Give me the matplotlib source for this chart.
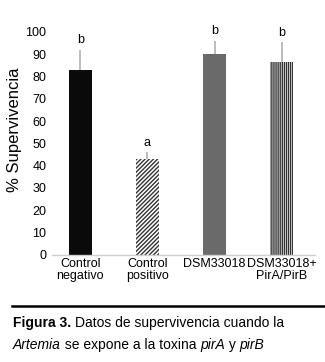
import numpy as np
import matplotlib.pyplot as plt
from matplotlib.lines import Line2D

categories = ["Control\nnegativo", "Control\npositivo", "DSM33018", "DSM33018+\nPirA/PirB"]
survival = [83, 43, 90, 86.5]
err_up = [9, 3, 6, 9]
letters = ["b", "a", "b", "b"]

plt.rcParams["font.family"] = ["Liberation Sans", "DejaVu Sans"]
plt.rcParams["hatch.linewidth"] = 1.0

fig = plt.figure(figsize=(3.25, 3.62), dpi=100)
ax = fig.add_axes([0.16, 0.296, 0.81, 0.616])

x = np.arange(len(categories))
faces = ["#0a0a0a", "white", "#6a6a6a", "white"]
hatches = [None, "////////", None, "||||||||"]
for i in range(len(x)):
    ax.bar(x[i], survival[i], width=0.34, color=faces[i],
           edgecolor="#333333" if hatches[i] else faces[i],
           hatch=hatches[i], linewidth=0)
    ax.errorbar(x[i], survival[i], yerr=[[0], [err_up[i]]], fmt="none",
                ecolor="#b0b0b0", elinewidth=1.2, capsize=0)
    ax.text(x[i], survival[i] + err_up[i] + 1.5, letters[i],
            ha="center", va="bottom", fontsize=9)

ax.set_ylim(0, 100)
ax.set_xlim(-0.42, 3.5)
ax.set_yticks(range(0, 101, 10))
ax.set_xticks(x)
ax.set_xticklabels(categories, fontsize=9, linespacing=1.05)
ax.tick_params(axis="y", length=0, labelsize=9, pad=4)
ax.tick_params(axis="x", length=0, pad=2)
for s in ["top", "right", "left"]:
    ax.spines[s].set_visible(False)
ax.spines["bottom"].set_color("#d0d0d0")
ax.spines["bottom"].set_linewidth(1)
ax.set_ylabel("% Supervivencia", fontsize=12)
ax.yaxis.set_label_coords(-0.115, 0.56)

fig.add_artist(Line2D([0.037, 1.0], [0.155, 0.155], color="black", linewidth=1.8,
                      transform=fig.transFigure))

cap_font = ["Liberation Sans Narrow", "Liberation Sans", "DejaVu Sans"]


def caption_line(y, pieces):
    # pieces: list of (text, style, weight)
    xpos = 0.04
    for txt, style, weight in pieces:
        t = fig.text(xpos, y, txt, fontsize=10, family=cap_font, style=style,
                     weight=weight, va="center")
        fig.canvas.draw()
        bb = t.get_window_extent()
        xpos = bb.x1 / fig.bbox.width


caption_line(0.108, [("Figura 3. ", "normal", "bold"),
                     ("Datos de supervivencia cuando la", "normal", "normal")])
caption_line(0.047, [("Artemia", "italic", "normal"),
                     (" se expone a la toxina ", "normal", "normal"),
                     ("pirA", "italic", "normal"),
                     (" y ", "normal", "normal"),
                     ("pirB", "italic", "normal")])

fig.savefig("out.png", dpi=100)
